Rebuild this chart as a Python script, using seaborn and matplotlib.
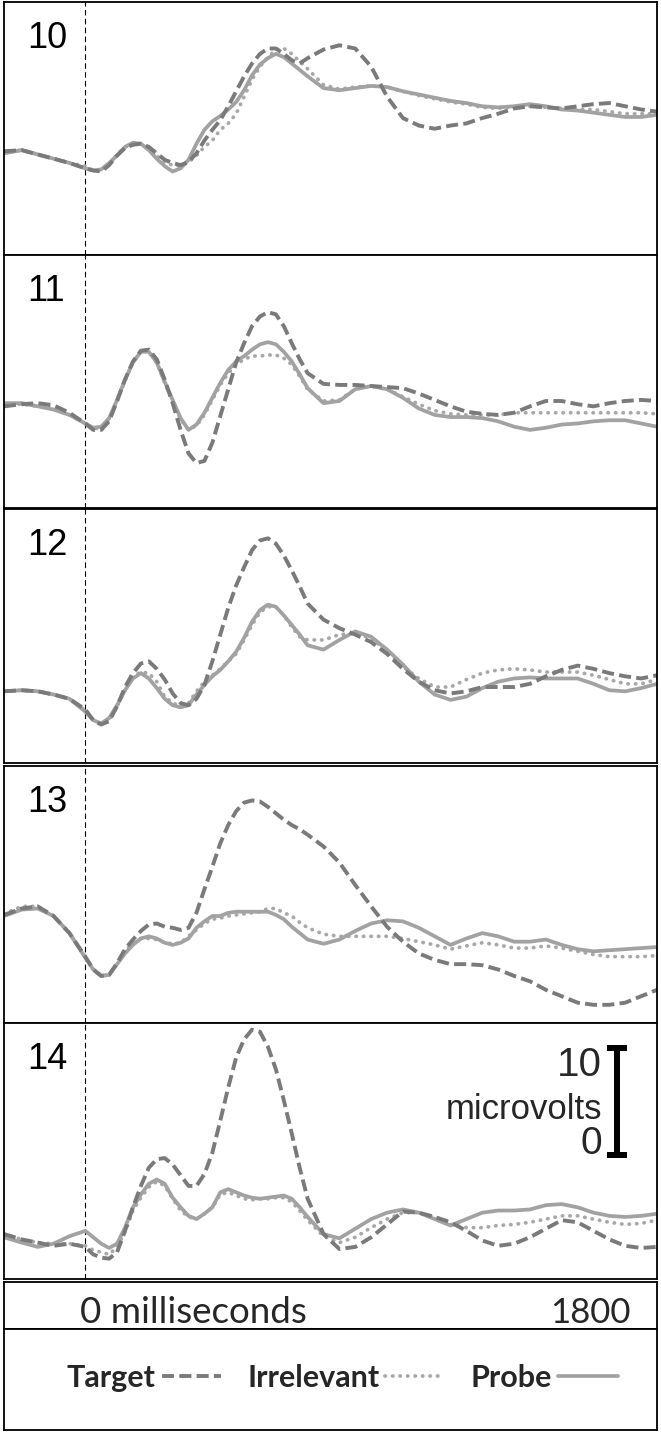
import matplotlib
matplotlib.use("Agg")
import matplotlib.pyplot as plt
import seaborn as sns

# ---------------- data (microvolts) ----------------
TIME_MS = [-256, -200, -150, -100, -50, 0, 25, 50, 75, 100, 125, 150, 175, 200,
           225, 250, 275, 300, 325, 350, 375, 400, 425, 450, 475, 500, 525, 550,
           575, 600, 625, 650, 675, 700, 750, 800, 850, 900, 950, 1000, 1050,
           1100, 1150, 1200, 1250, 1300, 1350, 1400, 1450, 1500, 1550, 1600,
           1650, 1700, 1750, 1800]

PANEL_LABELS = ["10", "11", "12", "13", "14"]
CONDITIONS = ["Target", "Irrelevant", "Probe"]

TARGET_10 = [-0.3, -0.2, -0.6, -1.0, -1.4, -1.9, -2.1, -2.2, -1.6, -0.7, 0.0, 0.3, 0.4, 0.1, -0.5, -1.1, -1.4, -1.6, -1.3, -0.5,
             0.7, 1.7, 2.6, 3.9, 5.3, 6.7, 7.9, 8.8, 9.3, 9.3, 8.8, 8.2, 7.9, 8.4, 9.2, 9.6, 9.3, 7.6, 4.8, 2.8,
             2.1, 1.8, 2.1, 2.3, 2.8, 3.2, 3.7, 3.9, 3.8, 3.7, 3.9, 4.1, 4.2, 3.9, 3.6, 3.4]
IRRELEVANT_10 = [-0.4, -0.2, -0.6, -1.0, -1.4, -1.7, -2.1, -2.1, -1.5, -0.6, 0.1, 0.4, 0.4, 0.0, -0.7, -1.4, -1.6, -1.7, -1.3, -0.7,
                 0.1, 0.7, 1.7, 2.3, 3.2, 4.8, 6.4, 7.6, 8.5, 9.2, 9.3, 8.8, 8.1, 7.4, 5.9, 5.5, 5.7, 5.8, 5.7, 5.3,
                 4.9, 4.6, 4.3, 4.1, 3.8, 3.7, 3.9, 3.9, 3.8, 3.7, 3.6, 3.6, 3.4, 3.2, 3.2, 3.2]
PROBE_10 = [-0.5, -0.2, -0.6, -1.0, -1.4, -1.9, -2.1, -2.0, -1.4, -0.7, 0.1, 0.5, 0.4, -0.2, -1.0, -1.7, -2.2, -1.9, -1.1, 0.4,
            1.7, 2.5, 3.0, 3.6, 4.3, 5.4, 6.8, 7.8, 8.4, 8.8, 8.5, 7.9, 7.3, 6.7, 5.6, 5.4, 5.6, 5.8, 5.7, 5.3,
            5.0, 4.7, 4.4, 4.2, 3.9, 3.8, 3.9, 4.1, 3.9, 3.6, 3.5, 3.3, 3.1, 2.9, 2.9, 3.1]

TARGET_11 = [-0.5, -0.3, -0.2, -0.4, -1.1, -2.1, -2.7, -2.7, -1.9, 0.0, 2.0, 3.7, 4.7, 4.8, 3.9, 2.0, -0.2, -2.7, -4.9, -5.8,
             -5.6, -3.9, -1.4, 1.1, 3.6, 5.4, 7.0, 7.9, 8.3, 8.1, 7.0, 5.4, 3.9, 2.6, 1.6, 1.5, 1.5, 1.4, 1.3, 1.2,
             0.7, 0.1, -0.5, -1.0, -1.2, -1.3, -1.1, -0.5, 0.0, 0.0, -0.3, -0.5, -0.2, 0.0, 0.1, 0.0]
IRRELEVANT_11 = [-0.3, -0.3, -0.5, -0.7, -1.3, -2.1, -2.6, -2.5, -1.7, 0.0, 1.9, 3.6, 4.7, 4.7, 3.6, 1.7, 0.0, -1.7, -2.7, -2.3,
                 -1.3, 0.1, 1.5, 2.6, 3.4, 3.9, 4.2, 4.2, 4.3, 4.3, 4.0, 3.4, 2.3, 1.1, 0.0, 0.1, 1.1, 1.4, 1.1, 0.4,
                 -0.3, -0.9, -1.2, -1.3, -1.3, -1.3, -1.1, -1.1, -1.1, -1.1, -1.1, -1.1, -1.1, -1.1, -1.1, -1.2]
PROBE_11 = [-0.2, -0.2, -0.5, -0.8, -1.3, -2.1, -2.5, -2.4, -1.6, 0.1, 2.0, 3.6, 4.6, 4.6, 3.6, 1.8, 0.1, -1.6, -2.7, -2.2,
            -1.1, 0.3, 1.7, 2.9, 3.7, 4.2, 4.8, 5.3, 5.5, 5.3, 4.6, 3.7, 2.5, 1.2, -0.2, 0.0, 1.1, 1.4, 1.1, 0.3,
            -0.7, -1.3, -1.5, -1.5, -1.6, -1.9, -2.4, -2.7, -2.5, -2.2, -2.1, -1.9, -1.8, -1.8, -2.1, -2.4]

TARGET_12 = [-3.3, -3.2, -3.3, -3.6, -4.0, -5.0, -6.0, -6.4, -6.1, -4.7, -2.9, -1.6, -0.7, -0.5, -1.2, -2.2, -3.5, -4.4, -4.6, -4.0,
             -2.7, -0.5, 2.0, 4.5, 6.6, 8.3, 9.9, 10.8, 11.0, 10.5, 9.4, 8.0, 6.5, 4.9, 3.4, 2.6, 2.0, 1.3, 0.2, -1.2,
             -2.4, -3.2, -3.5, -3.3, -2.9, -2.9, -2.9, -2.6, -1.9, -1.3, -0.9, -1.2, -1.6, -1.9, -2.1, -1.8]
IRRELEVANT_12 = [-3.3, -3.2, -3.3, -3.6, -4.0, -5.1, -6.0, -6.4, -6.0, -4.7, -3.2, -1.9, -1.5, -1.6, -2.4, -3.8, -4.4, -4.7, -4.4, -3.3,
                 -2.4, -1.8, -1.2, -0.5, 0.2, 1.5, 2.9, 4.1, 4.6, 4.6, 3.8, 2.7, 1.8, 1.5, 1.5, 2.0, 2.1, 1.7, 0.4, -1.0,
                 -2.1, -2.9, -2.9, -2.2, -1.6, -1.3, -1.2, -1.3, -1.5, -1.5, -1.5, -1.8, -2.2, -2.6, -2.6, -2.2]
PROBE_12 = [-3.3, -3.2, -3.3, -3.6, -4.0, -5.2, -6.0, -6.3, -5.8, -4.6, -3.2, -2.1, -1.6, -2.1, -3.0, -4.0, -4.6, -4.8, -4.6, -3.6,
            -2.7, -1.9, -1.3, -0.5, 0.4, 1.7, 3.2, 4.3, 4.8, 4.6, 3.8, 2.9, 2.0, 1.0, 0.6, 1.5, 2.3, 1.8, 0.6, -0.8,
            -2.4, -3.6, -4.1, -3.8, -3.0, -2.4, -2.1, -2.0, -2.1, -2.1, -2.1, -2.6, -3.2, -3.3, -3.0, -2.6]

TARGET_13 = [0.1, 0.7, 0.9, 0.0, -1.6, -3.8, -5.0, -5.6, -5.5, -4.4, -3.1, -2.2, -1.4, -0.8, -0.7, -1.0, -1.1, -1.3, -1.1, 0.3,
             2.5, 4.6, 6.8, 8.5, 9.8, 10.6, 10.8, 10.7, 10.2, 9.6, 9.0, 8.5, 8.1, 7.6, 6.5, 5.0, 2.9, 0.9, -1.0, -2.4,
             -3.5, -4.1, -4.5, -4.5, -4.6, -5.0, -5.6, -6.1, -6.9, -7.5, -8.1, -8.3, -8.3, -8.1, -7.5, -6.9]
IRRELEVANT_13 = [0.2, 0.9, 0.9, 0.0, -1.6, -3.8, -5.0, -5.6, -5.5, -4.5, -3.3, -2.5, -2.1, -2.1, -2.2, -2.5, -2.6, -2.5, -1.9, -1.3,
                 -0.7, -0.3, -0.2, 0.0, 0.1, 0.2, 0.3, 0.4, 0.7, 0.7, 0.3, 0.0, -0.6, -1.1, -1.7, -1.9, -1.9, -1.9, -1.9, -2.1,
                 -2.4, -2.7, -3.1, -2.8, -2.5, -2.7, -3.0, -3.0, -2.8, -3.0, -3.3, -3.6, -3.8, -3.8, -3.8, -3.7]
PROBE_13 = [0.0, 0.6, 0.7, 0.0, -1.6, -3.9, -5.0, -5.6, -5.5, -4.5, -3.5, -2.7, -2.1, -1.9, -2.1, -2.5, -2.7, -2.5, -2.1, -1.1,
            -0.5, 0.0, 0.0, 0.3, 0.4, 0.4, 0.4, 0.4, 0.4, 0.1, -0.3, -1.0, -1.6, -2.2, -2.6, -2.2, -1.4, -0.7, -0.4, -0.5,
            -1.1, -1.9, -2.7, -2.1, -1.6, -1.9, -2.4, -2.4, -2.2, -2.7, -3.1, -3.3, -3.2, -3.1, -3.0, -2.9]

TARGET_14 = [-5.8, -6.3, -6.6, -6.9, -6.7, -7.0, -7.7, -8.0, -8.1, -7.5, -5.5, -3.3, -1.3, 0.4, 1.2, 1.3, 0.7, -0.3, -1.3, -1.3,
             -0.2, 1.8, 4.8, 7.9, 10.7, 12.4, 13.3, 13.1, 11.7, 9.6, 6.7, 3.6, 0.4, -2.5, -5.8, -7.2, -7.0, -6.1, -4.9, -3.7,
             -3.8, -4.2, -4.7, -5.5, -6.4, -6.9, -6.7, -6.1, -5.3, -4.5, -4.7, -5.5, -6.3, -6.9, -7.1, -7.0]
IRRELEVANT_14 = [-5.8, -6.3, -6.6, -6.7, -6.7, -6.9, -7.3, -7.5, -7.7, -7.0, -5.6, -3.6, -2.4, -1.4, -0.9, -1.3, -2.5, -3.6, -4.2, -4.4,
                 -3.9, -3.3, -2.1, -1.9, -2.2, -2.5, -2.6, -2.5, -2.5, -2.4, -2.4, -2.8, -3.6, -4.5, -6.0, -6.6, -6.1, -5.2, -4.4, -3.8,
                 -3.8, -4.2, -4.9, -5.2, -5.2, -5.0, -4.9, -4.7, -4.4, -4.1, -4.1, -4.4, -4.7, -4.9, -4.8, -4.5]
PROBE_14 = [-6.1, -6.6, -7.0, -6.7, -6.0, -5.5, -6.1, -6.7, -7.1, -6.7, -5.2, -3.3, -2.1, -1.1, -0.7, -1.1, -2.4, -3.3, -4.1, -4.4,
            -3.9, -3.3, -1.9, -1.6, -1.9, -2.2, -2.4, -2.5, -2.4, -2.3, -2.2, -2.5, -3.3, -4.2, -5.8, -6.2, -5.3, -4.4, -3.8, -3.5,
            -3.8, -4.4, -5.0, -4.4, -3.8, -3.6, -3.6, -3.5, -3.1, -3.0, -3.3, -3.8, -4.1, -4.2, -4.1, -3.9]

SERIES = {
    "10": {"Target": TARGET_10, "Irrelevant": IRRELEVANT_10, "Probe": PROBE_10},
    "11": {"Target": TARGET_11, "Irrelevant": IRRELEVANT_11, "Probe": PROBE_11},
    "12": {"Target": TARGET_12, "Irrelevant": IRRELEVANT_12, "Probe": PROBE_12},
    "13": {"Target": TARGET_13, "Irrelevant": IRRELEVANT_13, "Probe": PROBE_13},
    "14": {"Target": TARGET_14, "Irrelevant": IRRELEVANT_14, "Probe": PROBE_14},
}

X_START_LABEL = "0 milliseconds"
X_END_LABEL = "1800"
SCALE_LABELS = ["10", "microvolts", "0"]
SCALE_BAR_UV = 10
SCALE_BAR_BASE_UV = 1.6
SCALE_BAR_TIME = 1674

# ---------------- styling / layout ----------------
sns.set_style("white")
plt.rcParams["font.family"] = ["Liberation Sans", "DejaVu Sans"]

W, H = 661, 1432
fig = plt.figure(figsize=(W / 100, H / 100), dpi=100)
fig.patch.set_facecolor("white")

PX_PER_UV = 10.7
Y_LOW = -10.0
XLIM = (-256, 1800)
LEFT_PX, RIGHT_PX = 4, 657
PANEL_PX = [(2, 255), (255, 508), (509, 763), (766, 1023), (1023, 1279)]

STYLE = {
    "Irrelevant": dict(color="#a8a8a8", linewidth=2.7, linestyle=(0, (0.1, 1.9))),
    "Probe": dict(color="#a2a2a2", linewidth=2.7, linestyle="-"),
    "Target": dict(color="#7a7a7a", linewidth=2.8, linestyle=(0, (3.1, 1.35))),
}
DRAW_ORDER = ["Irrelevant", "Probe", "Target"]


def rect(top, bottom, left=LEFT_PX, right=RIGHT_PX):
    return [left / W, 1 - bottom / H, (right - left) / W, (bottom - top) / H]


def frame(ax, lw=1.3):
    ax.set_xticks([])
    ax.set_yticks([])
    for s in ax.spines.values():
        s.set_visible(True)
        s.set_color("black")
        s.set_linewidth(lw)


handles = {}
for label, (top, bottom) in zip(PANEL_LABELS, PANEL_PX):
    ax = fig.add_axes(rect(top, bottom))
    ax.set_facecolor("white")
    for cond in DRAW_ORDER:
        st = STYLE[cond]
        sns.lineplot(x=TIME_MS, y=SERIES[label][cond], ax=ax, color=st["color"],
                     linewidth=st["linewidth"], linestyle=st["linestyle"],
                     legend=False, errorbar=None)
        ln = ax.lines[-1]
        ln.set_dash_capstyle("round" if cond == "Irrelevant" else "butt")
        handles[cond] = ln
    ax.axvline(0, color="black", linewidth=0.8, linestyle=(0, (5, 3)), zorder=1)
    ax.set_xlim(*XLIM)
    ax.set_ylim(Y_LOW, Y_LOW + (bottom - top) / PX_PER_UV)
    ax.set_xlabel("")
    ax.set_ylabel("")
    frame(ax)
    ax.text(0.035, 1 - 19 / (bottom - top), label, transform=ax.transAxes,
            ha="left", va="top", fontsize=26, color="black")
    last_ax = ax

# scale bar in the last panel
ax = last_ax
bar_kw = dict(color="black", linewidth=4.3, solid_capstyle="butt")
ax.plot([SCALE_BAR_TIME, SCALE_BAR_TIME], [SCALE_BAR_BASE_UV, SCALE_BAR_BASE_UV + SCALE_BAR_UV], **bar_kw)
for v in (SCALE_BAR_BASE_UV, SCALE_BAR_BASE_UV + SCALE_BAR_UV):
    ax.plot([SCALE_BAR_TIME - 31, SCALE_BAR_TIME + 31], [v, v], **bar_kw)
ax.text(SCALE_BAR_TIME - 47, SCALE_BAR_BASE_UV + SCALE_BAR_UV - 1.6, SCALE_LABELS[0],
        ha="right", va="center", fontsize=29)
ax.text(SCALE_BAR_TIME - 47, SCALE_BAR_BASE_UV + 3.35, SCALE_LABELS[1],
        ha="right", va="baseline", fontsize=25)
ax.text(SCALE_BAR_TIME - 47, SCALE_BAR_BASE_UV + 0.05, SCALE_LABELS[2],
        ha="right", va="baseline", fontsize=28)

# x-axis label box
axx = fig.add_axes(rect(1282, 1329))
frame(axx)
axx.set_xlim(0, 1)
axx.set_ylim(0, 1)
axx.text(0.116, 0.13, X_START_LABEL, ha="left", va="baseline", fontsize=26.5, family="Lato")
axx.text(0.960, 0.13, X_END_LABEL, ha="right", va="baseline", fontsize=25, family="Lato")

# legend box
axl = fig.add_axes(rect(1329, 1430))
frame(axl)
leg = axl.legend([handles[c] for c in CONDITIONS], CONDITIONS, loc="center",
                 bbox_to_anchor=(0.518, 0.515), ncol=3, markerfirst=False, frameon=False,
                 prop={"family": "Lato", "weight": "bold", "size": 22},
                 handlelength=1.95, handletextpad=0.2, columnspacing=0.85)

fig.savefig("out.png", dpi=100, facecolor="white")
